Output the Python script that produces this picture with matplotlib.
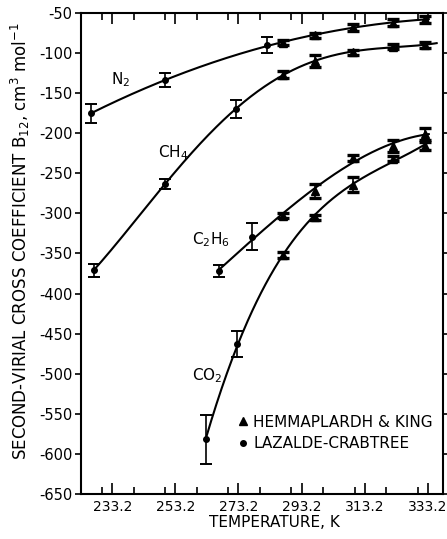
import matplotlib
matplotlib.use("Agg")
import matplotlib.pyplot as plt
from matplotlib.ticker import MultipleLocator
from matplotlib.lines import Line2D
import numpy as np

plt.rcParams['font.family'] = 'DejaVu Sans'
plt.rcParams['axes.unicode_minus'] = False

# Lazalde-Crabtree points (dots): T, B12, error
n2_lc_t = [226.5, 250.0, 282.1]
n2_lc_b = [-175, -134, -90]
n2_lc_e = [12, 9, 10]
ch4_lc_t = [227.3, 250.0, 272.3]
ch4_lc_b = [-371, -263, -170]
ch4_lc_e = [8, 6, 11]
c2h6_lc_t = [266.9, 277.5]
c2h6_lc_b = [-372, -329]
c2h6_lc_e = [7, 17]
co2_lc_t = [262.9, 272.7]
co2_lc_b = [-582, -463]
co2_lc_e = [31, 16]

# Hemmaplardh & King points (triangles)
hk_t = [287.3, 297.3, 309.4, 322.1, 332.2]
n2_hk_b = [-87, -78, -68, -62, -58]
n2_hk_e = [3, 3, 4, 4, 4]
ch4_hk_b = [-127, -110, -99, -92, -90]
ch4_hk_e = [4, 8, 3, 3, 4]
c2h6_hk_b = [-303, -272, -231, -216, -201]
c2h6_hk_e = [3, 9, 4, 7, 8]
co2_hk_b = [-352, -305, -264, -232, -216]
co2_hk_e = [4, 3, 9, 3, 5]

xticks = [233.2, 253.2, 273.2, 293.2, 313.2, 333.2]


def fit_curve(t, b, xend):
    # smooth least-squares curve; take the first candidate that keeps rising
    t = np.asarray(t, float)
    b = np.asarray(b, float)
    xs = np.linspace(t.min(), xend, 300)
    chk = xs <= t.max()
    best = None
    for deg in (3, 4):
        for inv in (False, True):
            u, us = (1000 / t, 1000 / xs) if inv else (t, xs)
            ys = np.polyval(np.polyfit(u, b, deg), us)
            if best is None:
                best = ys
            if np.all(np.diff(ys[chk]) > 0):
                return xs, ys
    return xs, best


fig = plt.figure(figsize=(4.47, 5.39), dpi=100)
ax = fig.add_axes([0.1805, 0.0835, 0.8105, 0.8925])

series = [
    (n2_lc_t, n2_lc_b, n2_lc_e, n2_hk_b, n2_hk_e, 333.5),
    (ch4_lc_t, ch4_lc_b, ch4_lc_e, ch4_hk_b, ch4_hk_e, 336.0),
    (c2h6_lc_t, c2h6_lc_b, c2h6_lc_e, c2h6_hk_b, c2h6_hk_e, 333.5),
    (co2_lc_t, co2_lc_b, co2_lc_e, co2_hk_b, co2_hk_e, 333.5),
]
for lt, lb, le, hb, he, xend in series:
    xs, ys = fit_curve(lt + hk_t, lb + hb, xend)
    ax.plot(xs, ys, color='black', lw=1.5)
    ax.errorbar(lt, lb, yerr=le, fmt='o', ms=4, color='black',
                capsize=4, elinewidth=1.2, capthick=1.4)
    ax.errorbar(hk_t, hb, yerr=he, fmt='^', ms=5.5, color='black',
                capsize=4.5, elinewidth=1.2, capthick=2.4)

ax.text(236.0, -133, 'N$_2$', fontsize=11, ha='center', va='center')
ax.text(252.5, -224, 'CH$_4$', fontsize=11, ha='center', va='center')
ax.text(264.5, -333, 'C$_2$H$_6$', fontsize=11, ha='center', va='center')
ax.text(263.4, -503, 'CO$_2$', fontsize=11, ha='center', va='center')

handles = [Line2D([], [], marker='^', ls='', color='black', ms=6),
           Line2D([], [], marker='o', ls='', color='black', ms=4)]
ax.legend(handles, ['HEMMAPLARDH & KING', 'LAZALDE-CRABTREE'],
          loc='lower right', bbox_to_anchor=(1.01, 0.06), frameon=False,
          fontsize=11, handlelength=0.5, handletextpad=0.45, labelspacing=0.45)

ax.set_xlim(223.2, 338.0)
ax.set_ylim(-650, -50)
ax.set_xticks(xticks)
ax.set_xticklabels([str(v) for v in xticks])
ax.xaxis.set_minor_locator(MultipleLocator(10))
ax.set_yticks(np.arange(-650, -49, 50))
ax.tick_params(axis='x', which='major', direction='in', length=8, width=1.2,
               top=True, labelsize=10, pad=4)
ax.tick_params(axis='x', which='minor', direction='in', length=5, width=1.2, top=True)
ax.tick_params(axis='y', which='major', direction='out', length=4, width=1.2,
               labelsize=10.5, pad=2)
ax.tick_params(axis='y', which='both', right=True)
for sp in ax.spines.values():
    sp.set_linewidth(1.5)

ax.set_xlabel('TEMPERATURE, K', fontsize=11)
ax.xaxis.set_label_coords(0.534, -0.043)
ax.set_ylabel('SECOND-VIRIAL CROSS COEFFICIENT B$_{12}$, cm$^3$ mol$^{-1}$',
              fontsize=12)
ax.yaxis.set_label_coords(-0.135, 0.526)

fig.savefig('out.png', dpi=100)
